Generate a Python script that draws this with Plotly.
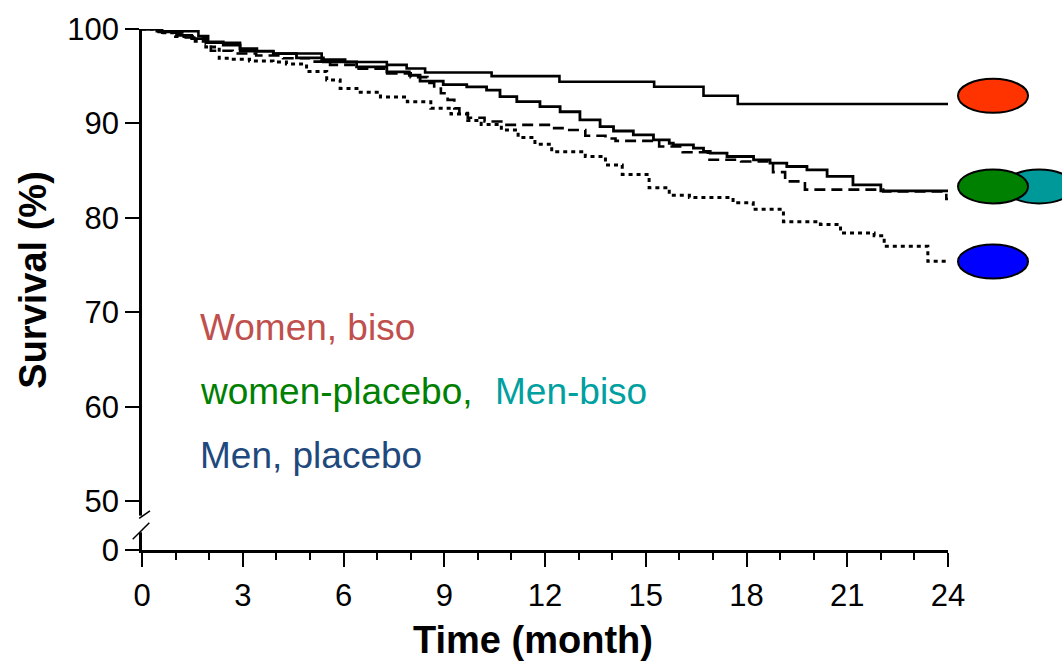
import plotly.graph_objects as go

# Kaplan-Meier survival estimates (%), by month
women_biso_t = [0, 0.44, 1.68, 1.97, 2.92, 3.91, 5.35, 6.05, 7.29, 7.88, 8.43, 10.41, 12.43, 15.25, 16.72, 17.74, 24]
women_biso_s = [100, 99.76, 99.26, 98.55, 97.65, 97.4, 96.76, 96.5, 96.2, 95.81, 95.39, 95.01, 94.41, 93.88, 92.93, 92.06, 92.06]

women_placebo_t = [0, 0.5, 1.03, 1.48, 1.93, 2.42, 2.92, 3.42, 3.91, 4.6, 5.4, 6.39, 7.29, 7.96, 8.28, 8.97,
                   9.67, 10.26, 10.66, 11.16, 11.85, 12.45, 13.04, 13.64, 14.04, 14.63, 15.23, 15.7, 15.82,
                   16.42, 16.72, 16.92, 17.42, 18.21, 18.7, 19.2, 19.8, 20.4, 21.17, 22.0, 24]
women_placebo_s = [100, 99.7, 99.33, 98.98, 98.63, 98.3, 97.92, 97.65, 97.4, 96.94, 96.52, 95.99, 95.46, 95.1, 94.48, 94.12,
                   93.88, 93.53, 92.83, 92.3, 91.77, 91.24, 90.37, 89.66, 89.2, 88.79, 88.26, 87.9, 87.73,
                   87.38, 87.03, 86.85, 86.5, 86.15, 85.8, 85.44, 85.09, 84.4, 83.5, 82.85, 82.85]

men_biso_t = [0, 0.6, 1.2, 1.9, 2.05, 2.7, 3.4, 4.2, 5.0, 5.6, 6.4, 7.3, 8.0, 8.5, 8.7, 8.9, 9.1, 9.3, 9.45, 9.7,
              10.2, 10.7, 12.2, 12.6, 13.2, 13.8, 14.1, 15.4, 16.1, 16.85, 17.84, 18.79, 19.15, 19.74, 22.07, 23.95, 24]
men_biso_s = [100, 99.6, 99.1, 98.4, 97.7, 97.4, 97.2, 96.9, 96.55, 96.2, 95.8, 95.3, 94.9, 94.3, 93.7, 93.2, 92.5, 91.6, 91.1, 90.6,
              90.2, 89.85, 89.5, 89.3, 88.7, 88.4, 88.15, 87.55, 86.95, 86.15, 85.97, 84.84, 83.86, 82.99, 82.8, 82.0, 82.0]

men_placebo_t = [0, 0.5, 1.0, 1.5, 1.9, 2.3, 2.6, 3.2, 3.9, 4.3, 4.9, 5.5, 5.9, 6.4, 7.1, 7.9, 8.6, 9.2, 9.7, 10.1,
                 10.7, 11.2, 11.7, 12.2, 13.2, 13.8, 14.3, 15.1, 15.7, 16.3, 17.6, 18.2, 19.1, 20.2, 20.8, 21.8,
                 22.1, 23.4, 24]
men_placebo_s = [100, 99.6, 99.2, 98.7, 98.1, 96.9, 96.8, 96.6, 96.5, 96.3, 95.5, 94.6, 93.7, 93.3, 92.8, 92.3, 91.6, 91.0, 90.3, 89.9,
                 89.3, 88.5, 87.8, 87.0, 86.5, 85.6, 84.6, 83.2, 82.4, 82.15, 81.6, 80.9, 79.6, 79.3, 78.4, 78.1,
                 77.0, 75.4, 75.4]

# y axis: the bottom of the axis is labelled 0 after a break below 50
Y_ZERO_POS = 44.83
y_tickvals = [Y_ZERO_POS, 50, 60, 70, 80, 90, 100]
y_ticktext = ["0", "50", "60", "70", "80", "90", "100"]
x_tickvals = [0, 3, 6, 9, 12, 15, 18, 21, 24]

# group labels: (text, colour, month, survival)
labels = [
    ("Women, biso", "#C0504D", 1.67, 68.4),
    ("women-placebo,", "#008000", 1.67, 61.6),
    ("Men-biso", "#00A0A0", 10.46, 61.6),
    ("Men, placebo", "#1F497D", 1.67, 54.85),
]

# coloured ovals on the right: (fill colour, centre survival, left edge, right edge in paper units)
ovals = [
    ("#FF3300", 92.93, 1.0124, 1.0993),
    ("#009999", 83.33, 1.0695, 1.1563),
    ("#008000", 83.33, 1.0124, 1.0993),
    ("#0000FF", 75.37, 1.0124, 1.0993),
]
OVAL_HALF_H = 1.8

fig = go.Figure()

def km(t, s, dash, width):
    fig.add_trace(go.Scatter(
        x=t, y=s, mode="lines", line_shape="hv",
        line=dict(color="black", width=width, dash=dash),
        showlegend=False, hoverinfo="skip",
    ))

km(women_biso_t, women_biso_s, "solid", 2.6)
km(women_placebo_t, women_placebo_s, "solid", 2.8)
km(men_biso_t, men_biso_s, "11px,6px", 2.6)
km(men_placebo_t, men_placebo_s, "4px,4px", 3)

font_axis = "Liberation Sans, Arial, Helvetica, sans-serif"

shapes = []
for color, yc, x0, x1 in ovals:
    shapes.append(dict(
        type="circle", xref="paper", yref="y",
        x0=x0, x1=x1, y0=yc - OVAL_HALF_H, y1=yc + OVAL_HALF_H,
        fillcolor=color, line=dict(color="black", width=2), layer="above",
    ))

# axis break on the y axis
shapes.append(dict(type="rect", xref="paper", yref="paper",
                   x0=-0.007, x1=0.007, y0=0.034, y1=0.066,
                   fillcolor="white", line=dict(width=0), layer="above"))
shapes.append(dict(type="line", xref="paper", yref="paper",
                   x0=-0.0035, y0=0.0606, x1=0.0099, y1=0.0752,
                   line=dict(color="black", width=1.5), layer="above"))
shapes.append(dict(type="line", xref="paper", yref="paper",
                   x0=-0.0115, y0=0.0205, x1=0.0091, y1=0.0522,
                   line=dict(color="black", width=1.5), layer="above"))

annotations = []
for text, color, xm, ys in labels:
    annotations.append(dict(
        x=xm, y=ys, xref="x", yref="y", text=text, showarrow=False,
        xanchor="left", yanchor="middle",
        font=dict(family=font_axis, size=37, color=color),
    ))

annotations.append(dict(
    x=-0.1345, y=0.518, xref="paper", yref="paper", text="<b>Survival (%)</b>",
    showarrow=False, textangle=-90, xanchor="center", yanchor="middle",
    font=dict(family=font_axis, size=38, color="black"),
))
annotations.append(dict(
    x=0.485, y=-0.172, xref="paper", yref="paper", text="<b>Time (month)</b>",
    showarrow=False, xanchor="center", yanchor="middle",
    font=dict(family=font_axis, size=38, color="black"),
))

fig.update_layout(
    width=1062, height=665,
    margin=dict(l=142, r=114, t=27, b=115),
    plot_bgcolor="white", paper_bgcolor="white",
    shapes=shapes, annotations=annotations,
    xaxis=dict(
        range=[0, 24], tickvals=x_tickvals, ticks="outside", ticklen=14, tickwidth=2,
        tickcolor="black", showline=True, linecolor="black", linewidth=2.5,
        showgrid=False, zeroline=False, ticklabelstandoff=2,
        tickfont=dict(family=font_axis, size=31, color="black"),
        minor=dict(dtick=1, tick0=0, ticks="outside", ticklen=7, tickwidth=2, tickcolor="black"),
    ),
    yaxis=dict(
        range=[Y_ZERO_POS, 100], tickvals=y_tickvals, ticktext=y_ticktext,
        ticks="outside", ticklen=14, tickwidth=2, tickcolor="black",
        showline=True, linecolor="black", linewidth=2.5,
        showgrid=False, zeroline=False,
        tickfont=dict(family=font_axis, size=31, color="black"),
    ),
)

fig.write_html("out.html")
